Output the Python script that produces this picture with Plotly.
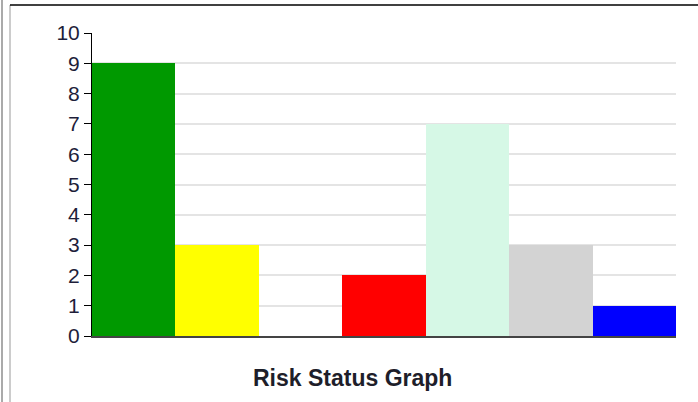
import plotly.graph_objects as go

# Risk counts per status
statuses = ["Low", "Moderate", "Unrated", "High", "Mitigated", "Closed", "Accepted"]
counts = [9, 3, 0, 2, 7, 3, 1]
bar_colors = ["#009900", "#FFFF00", "#FFFFFF", "#FF0000", "#D6F8E6", "#D3D3D3", "#0000FF"]
y_ticks = list(range(0, 11))

fig = go.Figure(
    go.Bar(
        x=statuses,
        y=counts,
        marker=dict(color=bar_colors, line=dict(width=0)),
        hoverinfo="x+y",
    )
)

fig.update_layout(
    width=698,
    height=402,
    margin=dict(l=92, r=22, t=33, b=66),
    paper_bgcolor="white",
    plot_bgcolor="white",
    bargap=0,
    showlegend=False,
    font=dict(family="Liberation Sans, Arial, sans-serif", color="#222222"),
    xaxis=dict(
        showticklabels=False,
        ticks="",
        showgrid=False,
        showline=True,
        linecolor="#444444",
        linewidth=2,
        zeroline=False,
        fixedrange=True,
    ),
    yaxis=dict(
        range=[0, 10],
        tickvals=y_ticks,
        ticks="outside",
        ticklen=7,
        tickcolor="#000000",
        tickwidth=1,
        tickfont=dict(size=21, color="#1E1E3A"),
        showline=True,
        linecolor="#000000",
        linewidth=1,
        showgrid=True,
        gridcolor="#E4E4E4",
        gridwidth=2,
        zeroline=False,
        fixedrange=True,
    ),
    annotations=[
        dict(
            text="<b>Risk Status Graph</b>",
            xref="paper",
            yref="paper",
            x=(352 - 92) / 584,
            y=-0.14,
            xanchor="center",
            yanchor="middle",
            showarrow=False,
            font=dict(size=23, color="#1E1E2A"),
        )
    ],
    shapes=[
        # outer frame pieces around the chart panel
        dict(type="line", xref="paper", yref="paper",
             x0=(2 - 92) / 584, x1=(2 - 92) / 584, y0=-66 / 303, y1=(336 - 0) / 303 + 0.001,
             line=dict(color="#AAAAAA", width=2)),
        dict(type="line", xref="paper", yref="paper",
             x0=(10 - 92) / 584, x1=(10 - 92) / 584, y0=-66 / 303, y1=(336 - 5) / 303,
             line=dict(color="#999999", width=1)),
        dict(type="line", xref="paper", yref="paper",
             x0=(10 - 92) / 584, x1=(698 - 92) / 584, y0=(336 - 5) / 303, y1=(336 - 5) / 303,
             line=dict(color="#000000", width=1.5)),
    ],
)

fig.write_html("out.html")
